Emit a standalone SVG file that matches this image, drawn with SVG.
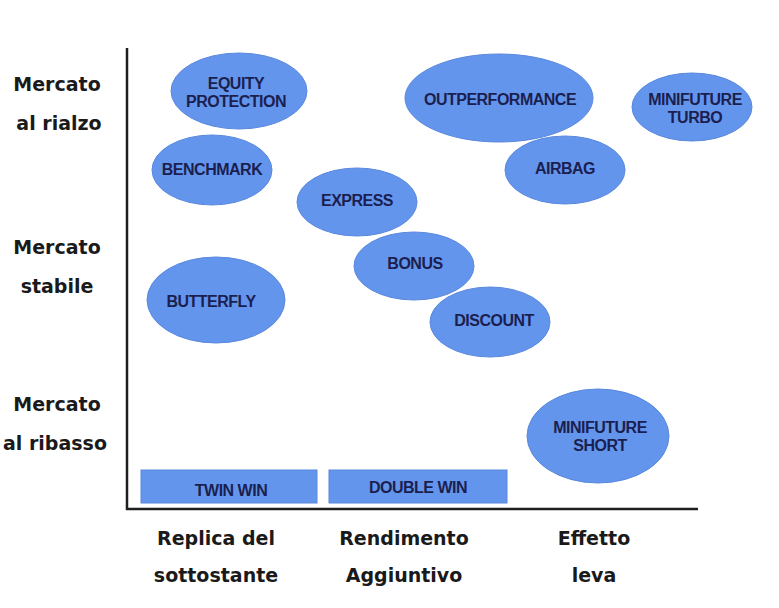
<svg xmlns="http://www.w3.org/2000/svg" width="779" height="608" viewBox="0 0 779 608">
<style>
.bg{fill:#ffffff}
.node{fill:#6495ed;stroke:#5a88dd;stroke-width:1}
.nt{font-family:"Liberation Sans",Arial,sans-serif;font-weight:bold;font-size:16px;letter-spacing:-0.5px;fill:#1b1f4f;text-anchor:middle}
.lab{font-family:"DejaVu Sans",Verdana,sans-serif;font-weight:bold;font-size:19px;fill:#1a1a1a;text-anchor:middle}
.axis{stroke:#1e1e1e;stroke-width:2.5;fill:none}
</style>
<rect class="bg" x="0" y="0" width="779" height="608"/>
<g id="axes">
<line class="axis" x1="127" y1="48" x2="127" y2="510"/>
<line class="axis" x1="126" y1="509" x2="698" y2="509"/>
</g>
<g id="row-labels">
<text class="lab" x="57" y="91">Mercato</text>
<text class="lab" x="59" y="130">al rialzo</text>
<text class="lab" x="57" y="254">Mercato</text>
<text class="lab" x="57" y="293">stabile</text>
<text class="lab" x="57" y="411">Mercato</text>
<text class="lab" x="55" y="450">al ribasso</text>
</g>
<g id="col-labels">
<text class="lab" x="216" y="545">Replica del</text>
<text class="lab" x="216" y="582">sottostante</text>
<text class="lab" x="404" y="545">Rendimento</text>
<text class="lab" x="404" y="582">Aggiuntivo</text>
<text class="lab" x="594" y="545">Effetto</text>
<text class="lab" x="594" y="582">leva</text>
</g>
<g id="equity-protection">
<ellipse class="node" cx="239" cy="91" rx="68" ry="38"/>
<text class="nt" x="236" y="89">EQUITY</text>
<text class="nt" x="236" y="107">PROTECTION</text>
</g>
<g id="benchmark">
<ellipse class="node" cx="212" cy="170" rx="60" ry="35"/>
<text class="nt" x="212" y="175">BENCHMARK</text>
</g>
<g id="butterfly">
<ellipse class="node" cx="216" cy="300" rx="69" ry="43"/>
<text class="nt" x="211" y="307">BUTTERFLY</text>
</g>
<g id="express">
<ellipse class="node" cx="357" cy="202" rx="60" ry="34"/>
<text class="nt" x="357" y="206">EXPRESS</text>
</g>
<g id="bonus">
<ellipse class="node" cx="414" cy="266" rx="60" ry="34"/>
<text class="nt" x="415" y="269">BONUS</text>
</g>
<g id="discount">
<ellipse class="node" cx="490" cy="322" rx="60" ry="35"/>
<text class="nt" x="494" y="326">DISCOUNT</text>
</g>
<g id="outperformance">
<ellipse class="node" cx="499" cy="98" rx="94" ry="44"/>
<text class="nt" x="500" y="105">OUTPERFORMANCE</text>
</g>
<g id="airbag">
<ellipse class="node" cx="565" cy="170" rx="60" ry="34"/>
<text class="nt" x="565" y="174">AIRBAG</text>
</g>
<g id="minifuture-turbo">
<ellipse class="node" cx="692" cy="107" rx="60" ry="34"/>
<text class="nt" x="695" y="105">MINIFUTURE</text>
<text class="nt" x="695" y="123">TURBO</text>
</g>
<g id="minifuture-short">
<ellipse class="node" cx="598" cy="436" rx="71" ry="47"/>
<text class="nt" x="600" y="433">MINIFUTURE</text>
<text class="nt" x="600" y="451">SHORT</text>
</g>
<g id="twin-win">
<rect class="node" x="141" y="470" width="176" height="33"/>
<text class="nt" x="231" y="496">TWIN WIN</text>
</g>
<g id="double-win">
<rect class="node" x="329" y="470" width="178" height="33"/>
<text class="nt" x="418" y="493">DOUBLE WIN</text>
</g>
<g id="connectors"></g>
</svg>
